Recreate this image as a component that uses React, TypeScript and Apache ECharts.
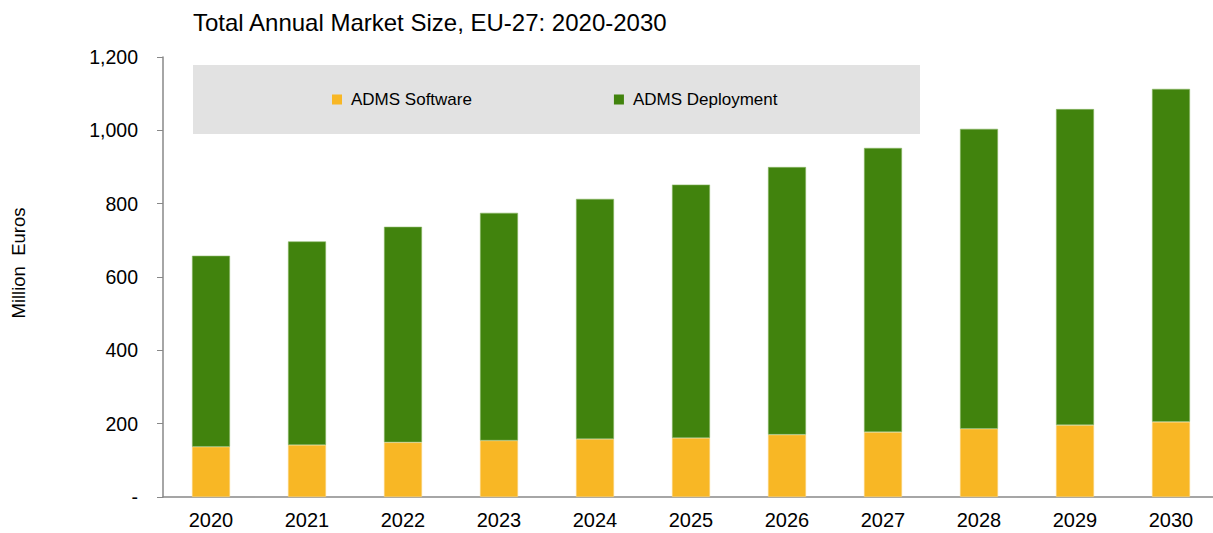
import React, { useEffect, useRef } from "react";
import * as echarts from "echarts";

const years = ["2020", "2021", "2022", "2023", "2024", "2025", "2026", "2027", "2028", "2029", "2030"];
const admsSoftware = [137, 142, 149, 154, 158, 161, 170, 177, 186, 196, 205];
const admsDeployment = [521, 555, 588, 621, 655, 691, 730, 775, 818, 862, 908];
const seriesNames = ["ADMS Software", "ADMS Deployment"];
const titleText = "Total Annual Market Size, EU-27: 2020-2030";
const yAxisName = "Million  Euros";

const FONT = "'Liberation Sans', Arial, sans-serif";

export default function App() {
  const ref = useRef<HTMLDivElement>(null);
  useEffect(() => {
    document.body.style.margin = "0";
    document.body.style.overflow = "hidden";
    const chart = echarts.init(ref.current!, undefined, { renderer: "svg" });
    chart.setOption({
      animation: false,
      backgroundColor: "#ffffff",
      textStyle: { fontFamily: FONT },
      title: {
        text: titleText,
        left: 188,
        top: 5,
        textStyle: { fontFamily: FONT, fontSize: 24, fontWeight: "normal", color: "#000" },
      },
      graphic: [
        {
          type: "rect",
          z: -1,
          shape: { x: 193, y: 65, width: 727, height: 69 },
          style: { fill: "#e2e2e2" },
        },
        {
          type: "text",
          x: 18,
          y: 263,
          rotation: Math.PI / 2,
          style: {
            text: yAxisName,
            fill: "#000",
            fontSize: 18.5,
            fontFamily: FONT,
            align: "center",
            verticalAlign: "middle",
          },
        },
      ],
      legend: {
        left: 327,
        top: 86,
        itemWidth: 10,
        itemHeight: 10,
        itemGap: 142,
        icon: "rect",
        data: seriesNames,
        itemStyle: { borderWidth: 0 },
        textStyle: { fontFamily: FONT, fontSize: 17, color: "#000", padding: [0, 0, 0, 4] },
      },
      grid: { left: 163, top: 57, width: 1056, height: 440 },
      xAxis: {
        type: "category",
        data: years,
        axisLine: { lineStyle: { color: "#888", width: 1.5 } },
        axisTick: { show: false },
        axisLabel: { color: "#000", fontSize: 20, fontFamily: FONT, margin: 13 },
      },
      yAxis: {
        type: "value",
        min: 0,
        max: 1200,
        interval: 200,
        splitLine: { show: false },
        axisLine: { show: true, lineStyle: { color: "#888", width: 1.5 } },
        axisTick: { show: true, length: 6, lineStyle: { color: "#888" } },
        axisLabel: {
          color: "#000",
          fontSize: 19.5,
          fontFamily: FONT,
          margin: 25,
          formatter: (v: number) => (v === 0 ? "-" : v.toLocaleString("en-US")),
        },
      },
      series: [
        {
          name: seriesNames[0],
          type: "bar",
          stack: "total",
          barWidth: 38,
          data: admsSoftware,
          itemStyle: { color: "#F8B725", borderColor: "#fbd47a", borderWidth: 0.6 },
        },
        {
          name: seriesNames[1],
          type: "bar",
          stack: "total",
          barWidth: 38,
          data: admsDeployment,
          itemStyle: { color: "#41830D", borderColor: "#8db86a", borderWidth: 0.6 },
        },
      ],
    });
    return () => chart.dispose();
  }, []);
  return (
    <div
      ref={ref}
      style={{ position: "fixed", left: 0, top: 0, width: 1232, height: 533 }}
    />
  );
}
